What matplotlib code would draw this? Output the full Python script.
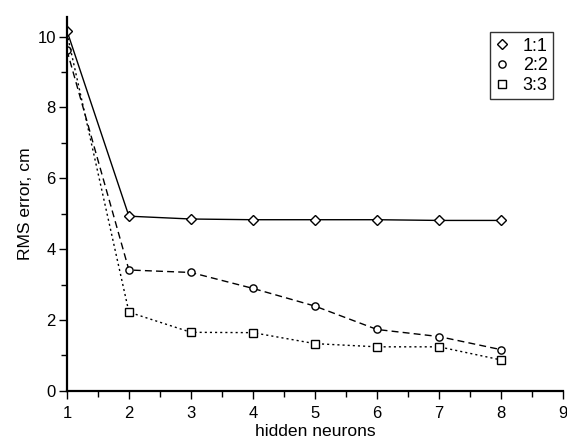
import numpy as np
import matplotlib
matplotlib.use("Agg")
import matplotlib.pyplot as plt
from matplotlib.ticker import MultipleLocator
from matplotlib.lines import Line2D

plt.rcParams['font.family'] = ['Liberation Sans', 'DejaVu Sans']

# data
neurons = [1, 2, 3, 4, 5, 6, 7, 8]
err_11 = [10.17, 4.93, 4.85, 4.83, 4.83, 4.83, 4.81, 4.81]
err_22 = [9.62, 3.41, 3.34, 2.89, 2.39, 1.73, 1.53, 1.16]
err_33 = [10.1, 2.22, 1.65, 1.64, 1.33, 1.24, 1.24, 0.87]
labels = ['1:1', '2:2', '3:3']
markers = ['D', 'o', 's']
msizes = [5, 5.2, 5.5]

fig = plt.figure(figsize=(5.67, 4.41), dpi=100)
ax = fig.add_axes([0.118, 0.114, 0.875, 0.847])

ax.plot(neurons, err_11, color='black', lw=1.0, ls='-', marker='D', ms=5,
        mfc='white', mec='black', mew=1.0)
ax.plot(neurons, err_22, color='black', lw=1.0, ls=(0, (5, 3)), marker='o', ms=5.2,
        mfc='white', mec='black', mew=1.0)
# no square drawn at the first point in the reference
ax.plot(neurons, err_33, color='black', lw=1.0, ls=(0, (1.5, 2.2)), marker='s', ms=5.5,
        mfc='white', mec='black', mew=1.0, markevery=slice(1, None))

ax.set_xlim(1, 9)
ax.set_ylim(0, 10.55)
ax.xaxis.set_major_locator(MultipleLocator(1))
ax.xaxis.set_minor_locator(MultipleLocator(0.5))
ax.yaxis.set_major_locator(MultipleLocator(2))
ax.yaxis.set_minor_locator(MultipleLocator(1))

for side in ['top', 'right']:
    ax.spines[side].set_visible(False)
for side in ['left', 'bottom']:
    ax.spines[side].set_linewidth(1.6)
ax.tick_params(which='major', direction='out', length=6, width=1.0, labelsize=12)
ax.tick_params(which='minor', direction='out', length=4, width=1.0)
ax.tick_params(axis='x', which='major', pad=5)
ax.tick_params(axis='y', which='major', pad=2)

ax.set_xlabel('hidden neurons', fontsize=12.6, labelpad=2)
ax.set_ylabel('RMS error, cm', fontsize=12.6, labelpad=3)

handles = [Line2D([], [], ls='none', marker=m, ms=s, mfc='white', mec='black', mew=1.0)
           for m, s in zip(markers, msizes)]
leg = ax.legend(handles, labels, loc='upper right', bbox_to_anchor=(0.98, 0.96),
                fontsize=13, frameon=True, fancybox=False, edgecolor='black',
                handlelength=0.7, handletextpad=0.8, borderpad=0.3,
                labelspacing=0.15, borderaxespad=0, numpoints=1)
leg.get_frame().set_linewidth(1.0)

fig.savefig('out.png', dpi=100)
